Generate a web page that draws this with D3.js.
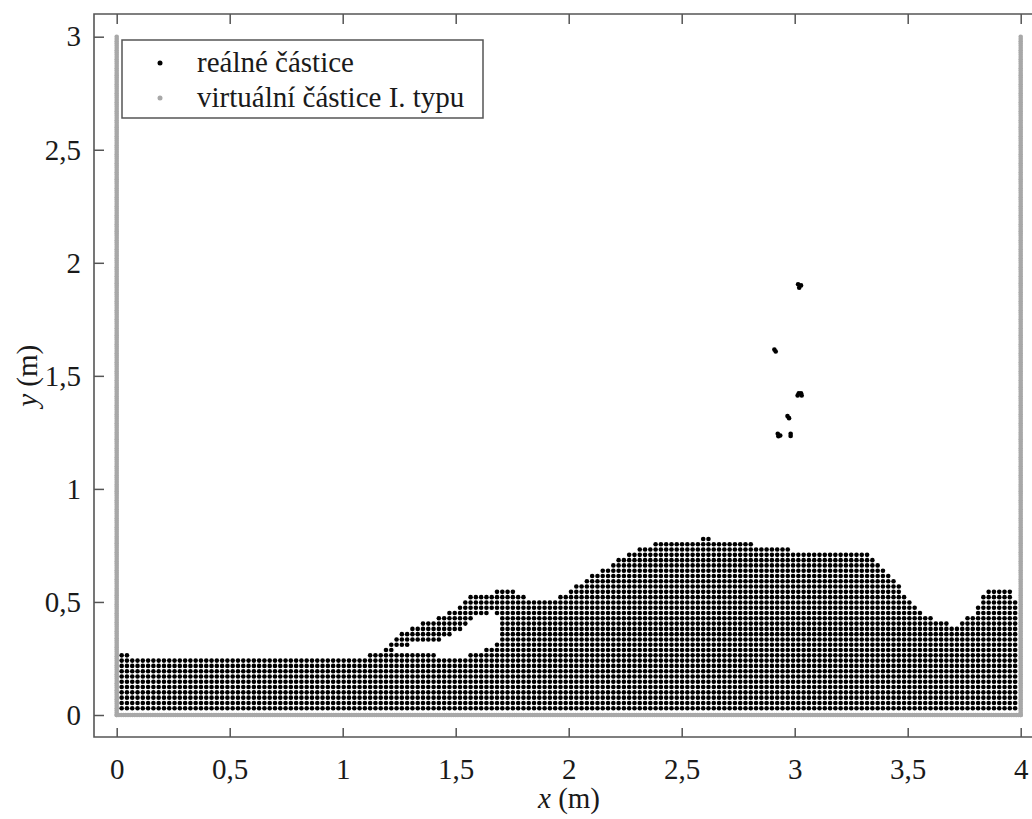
<!DOCTYPE html>
<html>
<head>
<meta charset="utf-8">
<script src="https://cdn.jsdelivr.net/npm/d3@7"></script>
<style>
  html, body { margin: 0; padding: 0; background: #fff; }
  svg { display: block; }
  text { font-family: "Liberation Serif", "Times New Roman", serif; fill: #1a1a1a; }
</style>
</head>
<body>
<svg id="chart" width="1032" height="819" font-family="Liberation Serif"></svg>
<script>
// Tank geometry (m)
const tankWidth = 4;
const tankHeight = 3;
// Particle spacing and first-layer offsets (m)
const particleSpacing = 4 / 171;
const firstColumn = 0.022;
const firstRow = 0.03;
const wallSpacing = 0.01;

// Free-surface outline of the fluid body [x, y] (m)
const fluidOutline = [
  [0, 0], [0, 0.272], [0.03, 0.266], [0.1, 0.26], [0.5, 0.258], [0.9, 0.255],
  [1.1, 0.262], [1.18, 0.275], [1.2, 0.30], [1.22, 0.345], [1.34, 0.40],
  [1.49, 0.465], [1.56, 0.52], [1.68, 0.548], [1.76, 0.548], [1.82, 0.515],
  [1.88, 0.505], [1.95, 0.515], [2.0, 0.55], [2.08, 0.60], [2.15, 0.645],
  [2.21, 0.685], [2.31, 0.74], [2.46, 0.772], [2.61, 0.78], [2.76, 0.767],
  [2.9, 0.742], [3.05, 0.722], [3.2, 0.716], [3.29, 0.73], [3.35, 0.688],
  [3.41, 0.63], [3.5, 0.522], [3.57, 0.452], [3.64, 0.408], [3.72, 0.402],
  [3.79, 0.45], [3.83, 0.522], [3.87, 0.562], [3.95, 0.568], [3.98, 0.49],
  [4, 0.48], [4, 0]
];

// Air cavity trapped under the breaking crest [x, y] (m)
const cavityOutline = [
  [1.215, 0.29], [1.3, 0.312], [1.42, 0.328], [1.51, 0.368], [1.58, 0.425],
  [1.66, 0.458], [1.705, 0.40], [1.685, 0.33], [1.61, 0.272], [1.52, 0.258],
  [1.43, 0.26], [1.34, 0.282], [1.25, 0.28]
];

// Detached droplets above the crest [x, y] (m)
const droplets = [
  [3.015, 1.905], [3.028, 1.900], [3.020, 1.890],
  [2.910, 1.616], [2.916, 1.608],
  [3.018, 1.423], [3.028, 1.423], [3.013, 1.413], [3.031, 1.413],
  [2.968, 1.322], [2.975, 1.313],
  [2.925, 1.244], [2.936, 1.236], [2.928, 1.233],
  [2.982, 1.244], [2.982, 1.234]
];

// Axis ticks
const xTicks = [0, 0.5, 1, 1.5, 2, 2.5, 3, 3.5, 4];
const yTicks = [0, 0.5, 1, 1.5, 2, 2.5, 3];

// Legend entries
const legendLabels = ["reálné částice", "virtuální částice I. typu"];
const legendColors = ["#000000", "#a8a8a8"];

// ---- layout ----
const svg = d3.select("#chart");
const box = { left: 94, right: 1044, top: 14, bottom: 737 };
const x = d3.scaleLinear().domain([0, tankWidth]).range([116.7, 1020.7]);
const y = d3.scaleLinear().domain([0, tankHeight]).range([715, 36.7]);
const fmt = d => String(d).replace(".", ",");

// Real particles: lattice sites inside the fluid body, outside the cavity
const realParticles = [];
for (let px = firstColumn; px < tankWidth - 0.015; px += particleSpacing) {
  for (let py = firstRow; py < 0.8; py += particleSpacing) {
    const p = [px, py];
    if (d3.polygonContains(fluidOutline, p) && !d3.polygonContains(cavityOutline, p)) {
      realParticles.push(p);
    }
  }
}
droplets.forEach(p => realParticles.push(p));

// Virtual boundary particles along the walls and the floor
const wallParticles = [];
for (let k = 0; k <= Math.round(tankHeight / wallSpacing); k++) {
  wallParticles.push([0, k * wallSpacing]);
  wallParticles.push([tankWidth, k * wallSpacing]);
}
for (let k = 0; k <= Math.round(tankWidth / wallSpacing); k++) {
  wallParticles.push([k * wallSpacing, 0]);
}

// ---- marks ----
svg.append("g").selectAll("circle").data(wallParticles).join("circle")
  .attr("cx", d => x(d[0])).attr("cy", d => y(d[1])).attr("r", 2.3)
  .attr("fill", legendColors[1]);

svg.append("g").selectAll("circle").data(realParticles).join("circle")
  .attr("cx", d => x(d[0])).attr("cy", d => y(d[1])).attr("r", 2.3)
  .attr("fill", legendColors[0]);

// ---- axes ----
const axisColor = "#555";
function styleAxis(g) {
  g.select(".domain").remove();
  g.selectAll(".tick line").attr("stroke", axisColor).attr("stroke-width", 1.5);
  g.selectAll(".tick text").style("font-size", "29px")
    .attr("font-family", "Liberation Serif").attr("fill", "#1a1a1a");
}

svg.append("g").attr("transform", `translate(0,${box.bottom})`)
  .call(d3.axisBottom(x).tickValues(xTicks).tickFormat(fmt)
    .tickSizeInner(-9).tickSizeOuter(0).tickPadding(21))
  .call(styleAxis);

svg.append("g").attr("transform", `translate(0,${box.top})`)
  .call(d3.axisTop(x).tickValues(xTicks).tickFormat("")
    .tickSizeInner(-10).tickSizeOuter(0))
  .call(styleAxis);

svg.append("g").attr("transform", `translate(${box.left},0)`)
  .call(d3.axisLeft(y).tickValues(yTicks).tickFormat(fmt)
    .tickSizeInner(-10).tickSizeOuter(0).tickPadding(13))
  .call(styleAxis);

// Frame
svg.append("path")
  .attr("d", `M${box.right},${box.top}H${box.left}V${box.bottom}H${box.right}`)
  .attr("fill", "none").attr("stroke", axisColor).attr("stroke-width", 1.6);

// Axis titles
const xTitle = svg.append("text")
  .attr("x", (box.left + box.right) / 2).attr("y", 808)
  .attr("text-anchor", "middle").style("font-size", "29px");
xTitle.append("tspan").attr("font-style", "italic").text("x");
xTitle.append("tspan").text(" (m)");

const yTitle = svg.append("text")
  .attr("transform", `translate(37,${(y(0) + y(3)) / 2}) rotate(-90)`)
  .attr("text-anchor", "middle").style("font-size", "29px");
yTitle.append("tspan").attr("font-style", "italic").text("y");
yTitle.append("tspan").text(" (m)");

// ---- legend ----
const legend = svg.append("g");
legend.append("rect")
  .attr("x", 122).attr("y", 40).attr("width", 361).attr("height", 78)
  .attr("fill", "#fff").attr("stroke", axisColor).attr("stroke-width", 1.5);
legendLabels.forEach((label, i) => {
  const cy = 63 + i * 35;
  legend.append("circle").attr("cx", 160).attr("cy", cy).attr("r", 2.5)
    .attr("fill", legendColors[i]);
  legend.append("text").attr("x", 197).attr("y", cy + 9)
    .style("font-size", "29px").text(label);
});
</script>
</body>
</html>
